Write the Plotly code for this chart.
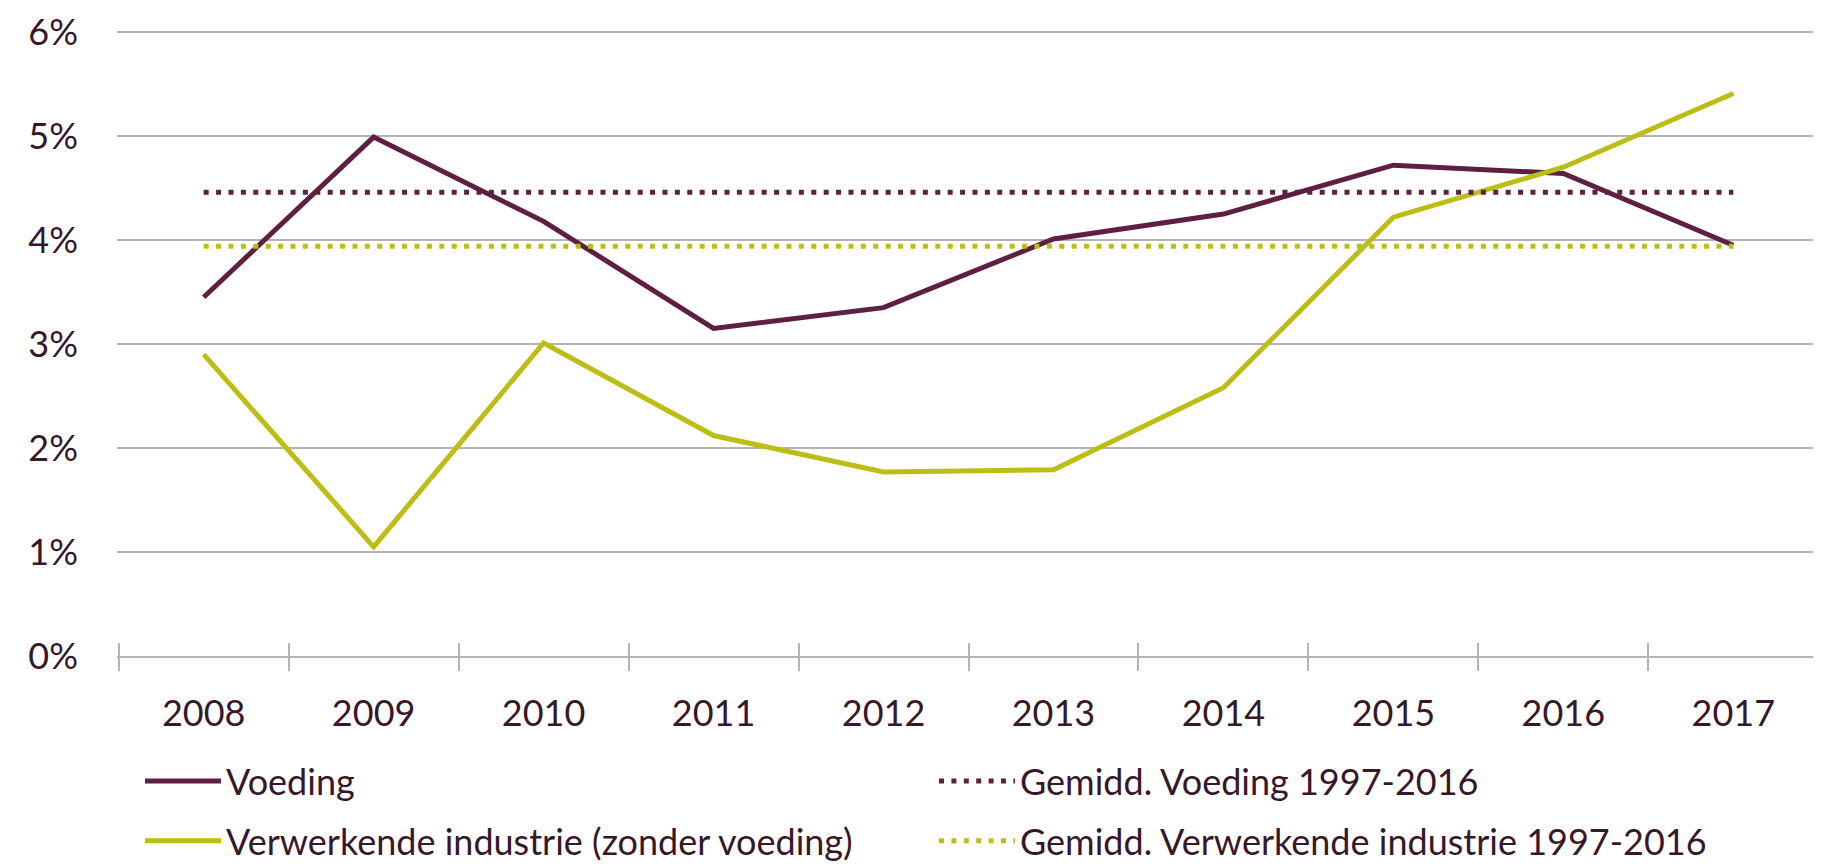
import plotly.graph_objects as go

years = ["2008", "2009", "2010", "2011", "2012", "2013", "2014", "2015", "2016", "2017"]
voeding = [3.45, 4.99, 4.18, 3.15, 3.35, 4.01, 4.25, 4.72, 4.64, 3.95]
verwerkend = [2.90, 1.05, 3.01, 2.12, 1.77, 1.79, 2.58, 4.22, 4.70, 5.41]
gem_voeding = [4.46] * len(years)
gem_verwerkend = [3.94] * len(years)
y_tick_vals = [0, 1, 2, 3, 4, 5, 6]
y_tick_text = ["0%", "1%", "2%", "3%", "4%", "5%", "6%"]

PLUM = "#5e1f40"
OLIVE = "#bcbe16"
GRID = "#b4b4b4"
TEXT = "#36182a"
FONT = "Lato"
FS = 36

W, H = 1813, 860  # page body has an 8px margin

fig = go.Figure()
fig.add_trace(go.Scatter(x=years, y=voeding, name="Voeding", mode="lines",
                         line=dict(color=PLUM, width=5), legend="legend", legendgroup="a"))
fig.add_trace(go.Scatter(x=years, y=verwerkend, name="Verwerkende industrie (zonder voeding)",
                         mode="lines", line=dict(color=OLIVE, width=5), legend="legend",
                         legendgroup="b"))
fig.add_trace(go.Scatter(x=years, y=gem_voeding, name="Gemidd. Voeding 1997-2016", mode="lines",
                         line=dict(color=PLUM, width=5, dash="5px,7.4px"), legend="legend2",
                         xaxis="x2", legendgroup="c"))
fig.add_trace(go.Scatter(x=years, y=gem_verwerkend, name="Gemidd. Verwerkende industrie 1997-2016",
                         mode="lines", line=dict(color=OLIVE, width=5, dash="5px,7.4px"),
                         legend="legend2", xaxis="x2", legendgroup="d"))

xr = [-0.51, 9.51]
fig.update_layout(
    width=W, height=H,
    margin=dict(l=109, r=1, t=22, b=212, autoexpand=False),
    paper_bgcolor="white", plot_bgcolor="white",
    font=dict(family=FONT, size=FS, color=TEXT),
    xaxis=dict(type="category", categoryorder="array", categoryarray=years,
               range=xr, tickson="boundaries", ticks="outside", ticklen=13,
               tickwidth=1.5, tickcolor=GRID, showline=True, linecolor=GRID, linewidth=1.5,
               showgrid=False, ticklabelstandoff=25, tickfont=dict(size=FS), tickangle=0,
               automargin=False),
    xaxis2=dict(type="category", categoryorder="array", categoryarray=years,
                range=xr, tickson="boundaries", ticks="inside", ticklen=13,
                tickwidth=1.5, tickcolor=GRID, showline=False, showgrid=False,
                showticklabels=False, overlaying="x", side="bottom", automargin=False),
    yaxis=dict(range=[0, 6.02], tickvals=y_tick_vals, ticktext=y_tick_text,
               showgrid=True, gridcolor=GRID, gridwidth=1.5, zeroline=False,
               ticks="", ticklabelstandoff=38, tickfont=dict(size=FS), automargin=False),
    legend=dict(xref="container", yref="container", x=132 / W, y=0.0663, xanchor="left",
                yanchor="middle", orientation="v", itemwidth=76, tracegroupgap=10,
                traceorder="grouped",
                font=dict(size=FS), bgcolor="rgba(0,0,0,0)", itemclick=False),
    legend2=dict(xref="container", yref="container", x=926 / W, y=0.0663, xanchor="left",
                 yanchor="middle", orientation="v", itemwidth=76, tracegroupgap=10,
                 traceorder="grouped",
                 font=dict(size=FS), bgcolor="rgba(0,0,0,0)", itemclick=False),
)

fig.write_html("out.html")
